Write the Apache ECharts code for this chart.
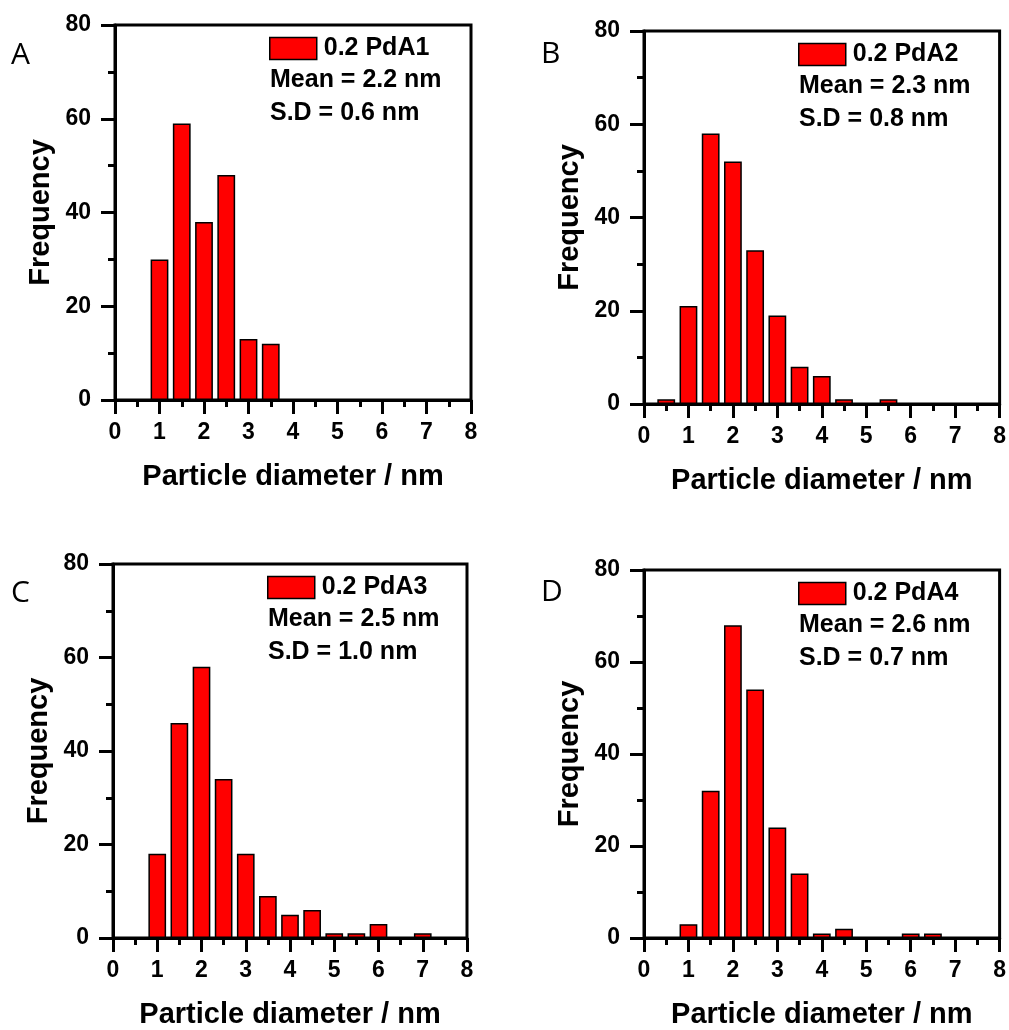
<!DOCTYPE html>
<html>
<head>
<meta charset="utf-8">
<script src="https://cdn.jsdelivr.net/npm/echarts@6/dist/echarts.min.js"></script>
<style>html,body{margin:0;padding:0;background:#fff}#c{width:1009px;height:1030px}</style>
</head>
<body>
<div id="c"></div>
<script>
// ---- data ----
var panelLetters = ['A', 'B', 'C', 'D'];
var seriesNames = ['0.2 PdA1', '0.2 PdA2', '0.2 PdA3', '0.2 PdA4'];
var meanLabels = ['Mean = 2.2 nm', 'Mean = 2.3 nm', 'Mean = 2.5 nm', 'Mean = 2.6 nm'];
var sdLabels = ['S.D = 0.6 nm', 'S.D = 0.8 nm', 'S.D = 1.0 nm', 'S.D = 0.7 nm'];
var binsA = [1.0, 1.5, 2.0, 2.5, 3.0, 3.5];
var countsA = [30, 59, 38, 48, 13, 12];
var binsB = [0.5, 1.0, 1.5, 2.0, 2.5, 3.0, 3.5, 4.0, 4.5, 5.5];
var countsB = [1, 21, 58, 52, 33, 19, 8, 6, 1, 1];
var binsC = [1.0, 1.5, 2.0, 2.5, 3.0, 3.5, 4.0, 4.5, 5.0, 5.5, 6.0, 7.0];
var countsC = [18, 46, 58, 34, 18, 9, 5, 6, 1, 1, 3, 1];
var binsD = [1.0, 1.5, 2.0, 2.5, 3.0, 3.5, 4.0, 4.5, 6.0, 6.5];
var countsD = [3, 32, 68, 54, 24, 14, 1, 2, 1, 1];
var xTickLabels = ['0', '1', '2', '3', '4', '5', '6', '7', '8'];
var yTickLabels = ['0', '20', '40', '60', '80'];
var xTitle = 'Particle diameter / nm';
var yTitle = 'Frequency';

var allBins = [binsA, binsB, binsC, binsD];
var allCounts = [countsA, countsB, countsC, countsD];

// ---- layout ----
var grids = [
  {left: 115, top: 25, width: 356, height: 375},
  {left: 644, top: 31, width: 356, height: 373},
  {left: 113, top: 564, width: 354, height: 374},
  {left: 644, top: 570, width: 356, height: 374}
];
var FONT = '"Liberation Sans", Arial, sans-serif';

var chart = echarts.init(document.getElementById('c'), null, {renderer: 'canvas'});
var option = {
  backgroundColor: '#fff',
  animation: false,
  grid: [], xAxis: [], yAxis: [], series: [], legend: [], graphic: []
};

grids.forEach(function (g, i) {
  option.grid.push({left: g.left, top: g.top, width: g.width, height: g.height,
    show: true, borderWidth: 3, borderColor: '#000', backgroundColor: 'transparent'});
  option.xAxis.push({
    type: 'value', gridIndex: i, min: 0, max: 8, interval: 1,
    name: xTitle, nameLocation: 'middle', nameGap: 62,
    nameTextStyle: {fontFamily: FONT, fontWeight: 'bold', fontSize: 29, color: '#000'},
    axisLine: {show: true, onZero: false, lineStyle: {color: '#000', width: 3}},
    axisTick: {show: true, inside: false, length: 14, lineStyle: {color: '#000', width: 3}},
    minorTick: {show: true, splitNumber: 2, length: 7, lineStyle: {color: '#000', width: 3}},
    splitLine: {show: false},
    axisLabel: {margin: 21, fontFamily: FONT, fontWeight: 'bold', fontSize: 23, color: '#000',
      formatter: function (v) { return xTickLabels[Math.round(v)]; }}
  });
  option.yAxis.push({
    type: 'value', gridIndex: i, min: 0, max: 80, interval: 20,
    name: yTitle, nameLocation: 'middle', nameGap: 60, nameRotate: 90,
    nameTextStyle: {fontFamily: FONT, fontWeight: 'bold', fontSize: 29, color: '#000'},
    axisLine: {show: true, onZero: false, lineStyle: {color: '#000', width: 3}},
    axisTick: {show: true, inside: false, length: 14, lineStyle: {color: '#000', width: 3}},
    minorTick: {show: true, splitNumber: 2, length: 7, lineStyle: {color: '#000', width: 3}},
    splitLine: {show: false},
    axisLabel: {margin: 24, fontFamily: FONT, fontWeight: 'bold', fontSize: 23, color: '#000',
      formatter: function (v) { return yTickLabels[Math.round(v / 20)]; }}
  });
  var data = allBins[i].map(function (b, k) { return [b, allCounts[i][k]]; });
  option.series.push({
    type: 'bar', name: seriesNames[i], xAxisIndex: i, yAxisIndex: i,
    data: data, barWidth: g.width * 0.4 / 8,
    itemStyle: {color: '#ff0000', borderColor: '#000', borderWidth: 1.5}
  });
  option.legend.push({
    data: [seriesNames[i]], left: g.left + 154, top: g.top + 11, padding: 0,
    itemWidth: 47, itemHeight: 22, icon: 'rect', itemGap: 0,
    itemStyle: {color: '#ff0000', borderColor: '#000', borderWidth: 1.5},
    textStyle: {fontFamily: FONT, fontWeight: 'bold', fontSize: 25, color: '#000', padding: [0, 0, 0, 2]}
  });
  option.graphic.push({
    type: 'text', x: g.left + 155, y: g.top + 55,
    style: {text: meanLabels[i], fontFamily: FONT, fontWeight: 'bold', fontSize: 25, fill: '#000', verticalAlign: 'middle'}
  });
  option.graphic.push({
    type: 'text', x: g.left + 155, y: g.top + 88,
    style: {text: sdLabels[i], fontFamily: FONT, fontWeight: 'bold', fontSize: 25, fill: '#000', verticalAlign: 'middle'}
  });
});

var letterPos = [[11, 55], [541, 54], [11, 593], [541, 592]];
panelLetters.forEach(function (L, i) {
  option.graphic.push({
    type: 'text', x: letterPos[i][0], y: letterPos[i][1],
    style: {text: L, fontFamily: '"Open Sans", sans-serif', fontWeight: 'normal', fontSize: 30, fill: '#000', verticalAlign: 'middle'}
  });
});

chart.setOption(option);
</script>
</body>
</html>
